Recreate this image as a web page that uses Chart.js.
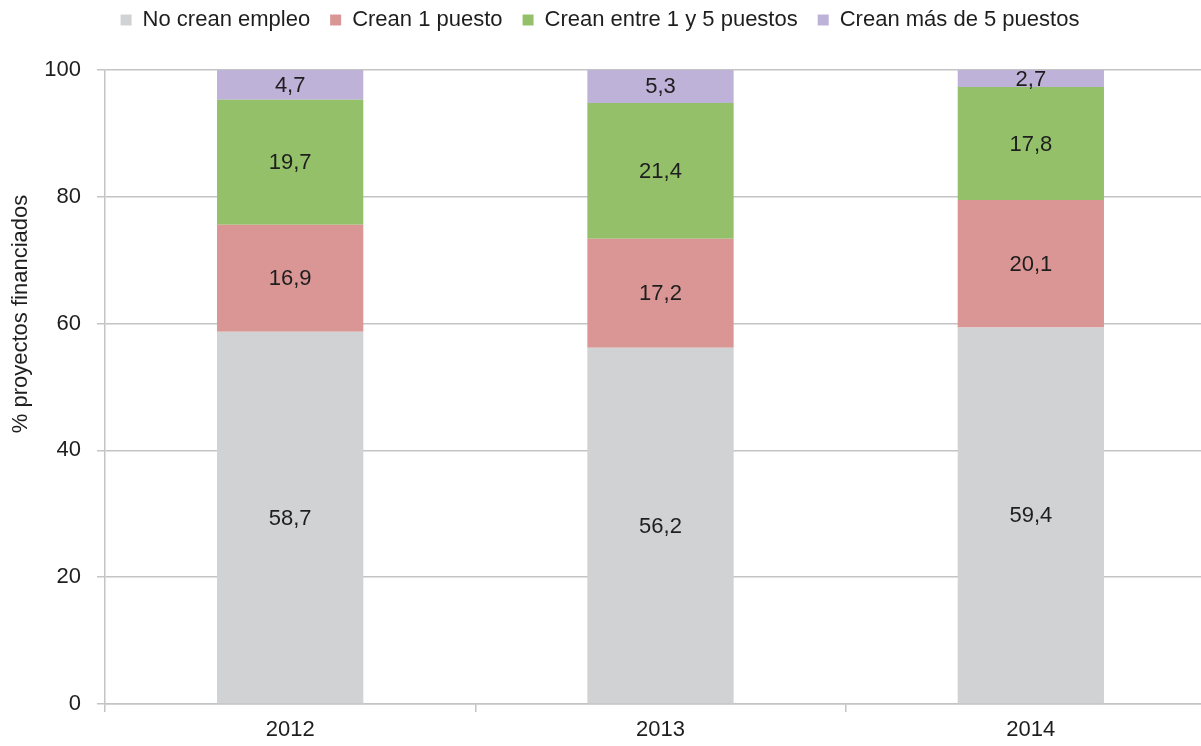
<!DOCTYPE html>
<html>
<head>
<meta charset="utf-8">
<script src="https://cdn.jsdelivr.net/npm/chart.js@4"></script>
<style>
  html, body { margin: 0; padding: 0; background: #fff; overflow: hidden; }
  #wrap { width: 1201px; height: 746px; overflow: hidden; }
</style>
</head>
<body>
<div id="wrap"><canvas id="grafico" width="1216" height="746"></canvas></div>
<script>
const years = ['2012', '2013', '2014'];
const noCrean = [58.7, 56.2, 59.4];
const unPuesto = [16.9, 17.2, 20.1];
const entre1y5 = [19.7, 21.4, 17.8];
const masDe5 = [4.7, 5.3, 2.7];
const yTicks = [0, 20, 40, 60, 80, 100];

const FONT = '"Liberation Sans", Arial, sans-serif';
const FSIZE = 22;

// etiquetas dentro de cada segmento
const valueLabels = {
    id: 'valueLabels',
    afterDatasetsDraw(chart) {
        const ctx = chart.ctx;
        ctx.save();
        ctx.font = FSIZE + 'px ' + FONT;
        ctx.fillStyle = '#1e1e1e';
        ctx.textAlign = 'center';
        ctx.textBaseline = 'middle';
        chart.data.datasets.forEach((ds, i) => {
            chart.getDatasetMeta(i).data.forEach((bar, j) => {
                const mid = (bar.y + bar.base) / 2;
                ctx.fillText(ds.data[j].toFixed(1).replace('.', ','), bar.x, mid + 1);
            });
        });
        ctx.restore();
    }
};

// titulo del eje y (no centrado en el area)
const yTitle = {
    id: 'yTitle',
    afterDraw(chart) {
        const ctx = chart.ctx;
        ctx.save();
        ctx.translate(21, 314);
        ctx.rotate(-Math.PI / 2);
        ctx.font = FSIZE + 'px ' + FONT;
        ctx.fillStyle = '#1e1e1e';
        ctx.textAlign = 'center';
        ctx.textBaseline = 'middle';
        ctx.fillText('% proyectos financiados', 0, 0);
        ctx.restore();
    }
};

const legendTweak = {
    id: 'legendTweak',
    beforeInit(chart) {
        const fit = chart.legend.fit;
        chart.legend.fit = function () {
            fit.bind(chart.legend)();
            this.height += 18;
        };
    },
    afterLayout(chart) {
        const lg = chart.legend;
        lg.left -= 8;
        lg.right -= 8;
        lg.top -= 11;
        lg.bottom -= 11;
    }
};

const grafico = document.getElementById('grafico');

new Chart(grafico, {
    type: 'bar',
    data: {
        labels: years,
        datasets: [
            { label: 'No crean empleo', data: noCrean, backgroundColor: '#d1d2d4' },
            { label: 'Crean 1 puesto', data: unPuesto, backgroundColor: '#d99694' },
            { label: 'Crean entre 1 y 5 puestos', data: entre1y5, backgroundColor: '#94c06a' },
            { label: 'Crean más de 5 puestos', data: masDe5, backgroundColor: '#bfb2d9' }
        ]
    },
    options: {
        responsive: false,
        animation: false,
        layout: { padding: { left: 0, right: 0, top: 0, bottom: 0 } },
        datasets: {
            bar: { barPercentage: 0.395, categoryPercentage: 1, borderWidth: 0 }
        },
        plugins: {
            legend: {
                position: 'top',
                labels: {
                    boxWidth: 11,
                    boxHeight: 11,
                    padding: 20,
                    color: '#1e1e1e',
                    font: { family: FONT, size: FSIZE }
                }
            },
            tooltip: { enabled: false }
        },
        scales: {
            x: {
                stacked: true,
                afterFit(scale) { scale.height = 42; },
                grid: {
                    offset: true,
                    drawOnChartArea: false,
                    drawTicks: true,
                    tickLength: 8,
                    color: '#c4c4c4',
                    lineWidth: 1.5
                },
                border: { color: '#c4c4c4', width: 1.5 },
                ticks: {
                    padding: 5,
                    color: '#1e1e1e',
                    font: { family: FONT, size: FSIZE }
                }
            },
            y: {
                stacked: true,
                min: 0,
                max: 100,
                afterFit(scale) { scale.width = 105; },
                afterBuildTicks(scale) {
                    scale.ticks = yTicks.map(v => ({ value: v }));
                },
                grid: {
                    color: '#c4c4c4',
                    lineWidth: 1.5,
                    tickLength: 8
                },
                border: { color: '#c4c4c4', width: 1.5 },
                ticks: {
                    padding: 16,
                    color: '#1e1e1e',
                    font: { family: FONT, size: FSIZE }
                }
            }
        }
    },
    plugins: [valueLabels, yTitle, legendTweak]
});
</script>
</body>
</html>
